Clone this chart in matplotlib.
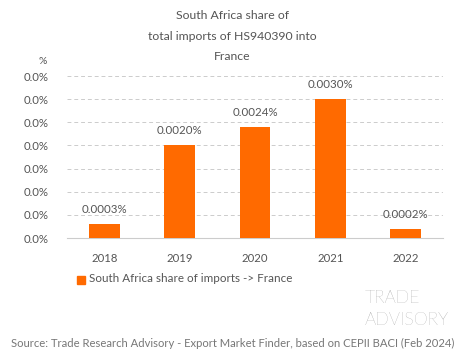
import matplotlib
matplotlib.use("Agg")
import matplotlib.pyplot as plt
from matplotlib.ticker import FuncFormatter, MultipleLocator
from matplotlib.patches import Rectangle

years = ["2018", "2019", "2020", "2021", "2022"]
shares = [0.0003, 0.0020, 0.0024, 0.0030, 0.0002]  # percent
bar_labels = ["0.0003%", "0.0020%", "0.0024%", "0.0030%", "0.0002%"]
title = "South Africa share of\ntotal imports of HS940390 into\nFrance"
legend_label = "South Africa share of imports -> France"
source = "Source: Trade Research Advisory - Export Market Finder, based on CEPII BACI (Feb 2024)"

ORANGE = "#FF6A00"
TXT = "#555555"
plt.rcParams['font.family'] = ['Lato', 'DejaVu Sans']

fig = plt.figure(figsize=(4.65, 3.59), dpi=100)
ax = fig.add_axes([0.144, 0.337, 0.809, 0.451])
x = range(len(years))
ax.bar(x, shares, width=0.41, color=ORANGE, zorder=3)
for xi, v, lab in zip(x, shares, bar_labels):
    ax.annotate(lab, (xi, v), xytext=(0, 6.5), textcoords="offset points",
                ha="center", va="bottom", fontsize=8.3, color=TXT)
ax.set_xlim(-0.5, len(years) - 0.5)
ax.set_ylim(0, 0.0035)
ax.yaxis.set_major_locator(MultipleLocator(0.0005))
ax.yaxis.set_major_formatter(FuncFormatter(lambda v, p: f"{v:.1f}%"))
ax.set_xticks(list(x))
ax.set_xticklabels(years)
ax.tick_params(axis="both", length=0, labelsize=8.2, colors=TXT)
ax.tick_params(axis="x", pad=11)
ax.tick_params(axis="y", pad=13)
ax.grid(axis="y", color="#cccccc", linestyle=(0, (4, 3)), linewidth=0.7, zorder=0)
for s in ["top", "right", "left"]:
    ax.spines[s].set_visible(False)
ax.spines["bottom"].set_color("#cccccc")
ax.spines["bottom"].set_linewidth(0.8)

fig.text(0.5, 1 - 36 / 359, title, ha="center", va="center", fontsize=8.8,
         color=TXT, linespacing=2.1)
fig.text(43 / 465, 1 - 61 / 359, "%", ha="center", va="center", fontsize=7.5, color=TXT)

# legend
fig.patches.append(Rectangle((77 / 465, 1 - 284 / 359), 8 / 465, 8 / 359,
                             transform=fig.transFigure, color=ORANGE))
fig.text(89 / 465, 1 - 279 / 359, legend_label, ha="left", va="center",
         fontsize=8.4, color=TXT)

# logo
fig.text(365 / 465, 1 - 298 / 359, "TRADE", ha="left", va="center",
         fontsize=12.8, color="#888888", fontweight="light")
fig.text(365 / 465, 1 - 320 / 359, "ADVISORY", ha="left", va="center",
         fontsize=12.8, color="#888888", fontweight="light")

fig.text(0.5, 1 - 343 / 359, source, ha="center", va="center", fontsize=8.1, color="#777777")

fig.savefig("out.png", dpi=100, facecolor="white")
